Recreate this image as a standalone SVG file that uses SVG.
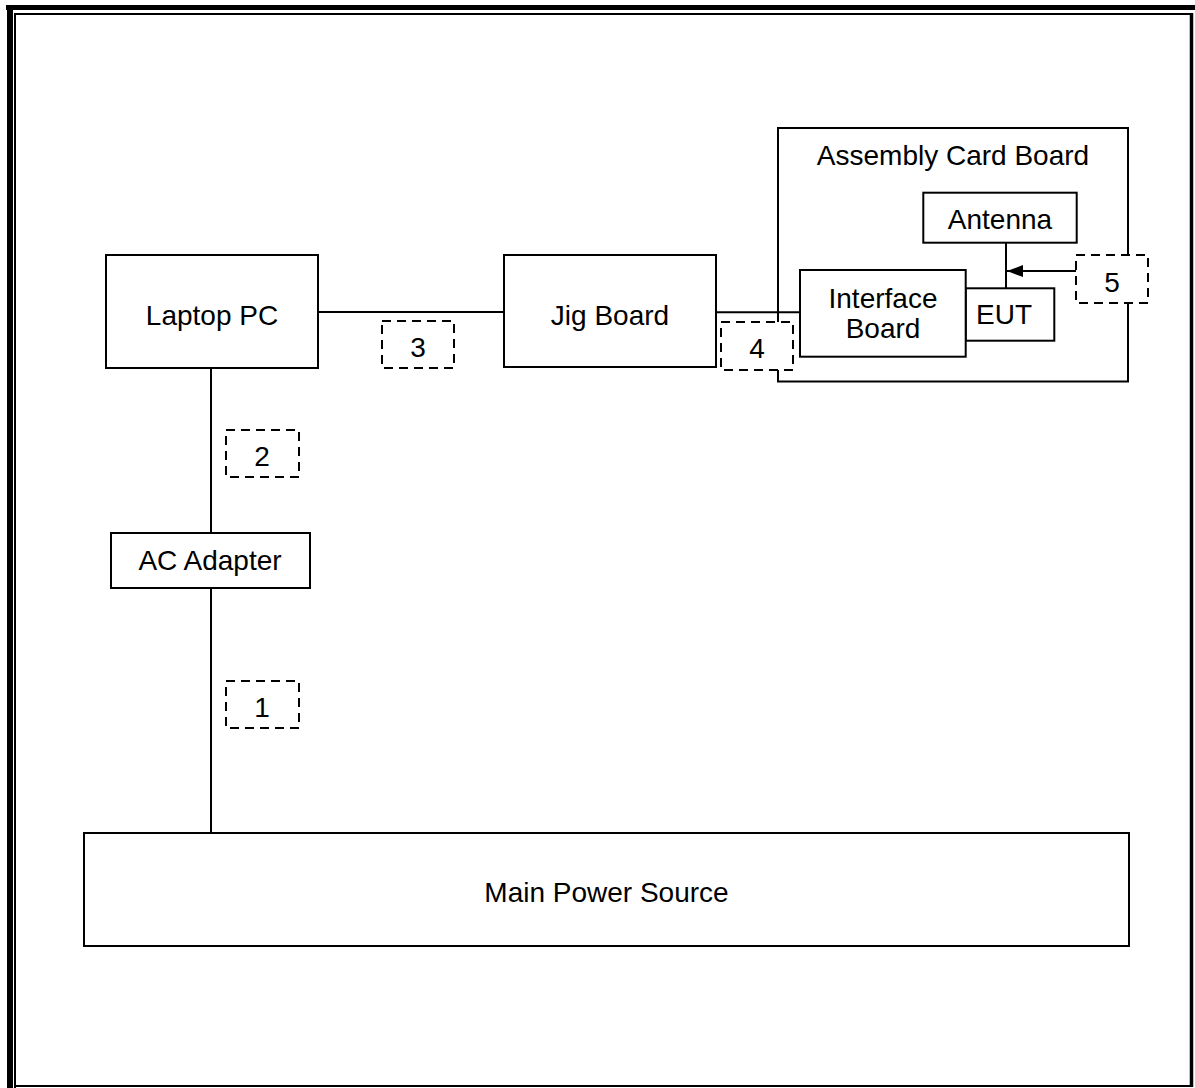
<svg xmlns="http://www.w3.org/2000/svg" width="1195" height="1088" viewBox="0 0 1195 1088">
<style>
.box{fill:#fff;stroke:#000;stroke-width:2}
.dash{fill:#fff;stroke:#000;stroke-width:2;stroke-dasharray:9 6}
.ln{fill:none;stroke:#000;stroke-width:2}
text{font-family:"Liberation Sans",Arial,sans-serif;font-size:28px;fill:#000;text-anchor:middle}
</style>
<defs>
<marker id="ah" markerWidth="16" markerHeight="12" refX="16" refY="6" orient="auto" markerUnits="userSpaceOnUse">
<path d="M0,0 L16,6 L0,12 Z" fill="#000"/>
</marker>
</defs>
<rect x="0" y="0" width="1195" height="1088" fill="#fff"/>
<g id="frame">
<rect x="6" y="5" width="1189" height="5" fill="#000"/>
<rect x="7" y="5" width="6" height="1083" fill="#000"/>
<path d="M14,14 H1193" class="ln"/>
<path d="M15,14 V1088" class="ln"/>
<path d="M15,1086 H1193" class="ln"/>
<path d="M1191.5,13 V1087" fill="none" stroke="#000" stroke-width="3.5"/>
</g>
<g id="assembly">
<rect class="box" x="778" y="128" width="350" height="253.5"/>
<text x="953" y="165">Assembly Card Board</text>
</g>
<g id="connectors">
<path class="ln" d="M318,312 H504"/>
<path class="ln" d="M716,312.3 H800"/>
<path class="ln" d="M211,368 V533"/>
<path class="ln" d="M211,588 V833"/>
<path class="ln" d="M1006,242.7 V288.3"/>
<path class="ln" d="M1076,271 H1007" marker-end="url(#ah)"/>
</g>
<g id="laptop">
<rect class="box" x="106" y="255" width="212" height="113"/>
<text x="212" y="325">Laptop PC</text>
</g>
<g id="jig">
<rect class="box" x="504" y="255" width="212" height="112"/>
<text x="610" y="325">Jig Board</text>
</g>
<g id="acadapter">
<rect class="box" x="111" y="533" width="199" height="55"/>
<text x="210" y="570">AC Adapter</text>
</g>
<g id="mainpower">
<rect class="box" x="84" y="833" width="1045" height="113"/>
<text x="606.5" y="902">Main Power Source</text>
</g>
<g id="antenna">
<rect class="box" x="923.3" y="192.7" width="153.4" height="50"/>
<text x="1000" y="229.3">Antenna</text>
</g>
<g id="eut">
<rect class="box" x="965.7" y="288.3" width="88.6" height="52.4"/>
<text x="1004" y="324">EUT</text>
</g>
<g id="interface">
<rect class="box" x="800" y="270" width="165.7" height="86.7"/>
<text x="883" y="307.7">Interface</text>
<text x="883" y="338.3">Board</text>
</g>
<g id="label1">
<rect class="dash" x="226" y="681" width="73" height="47"/>
<text x="262" y="717">1</text>
</g>
<g id="label2">
<rect class="dash" x="226" y="430" width="73" height="47"/>
<text x="262" y="466">2</text>
</g>
<g id="label3">
<rect class="dash" x="382" y="321" width="72" height="47"/>
<text x="418" y="357">3</text>
</g>
<g id="label4">
<rect class="dash" x="721" y="322" width="72" height="48"/>
<text x="757" y="358.3">4</text>
</g>
<g id="label5">
<rect class="dash" x="1076" y="255" width="72" height="48"/>
<text x="1112" y="291.7">5</text>
</g>
</svg>
